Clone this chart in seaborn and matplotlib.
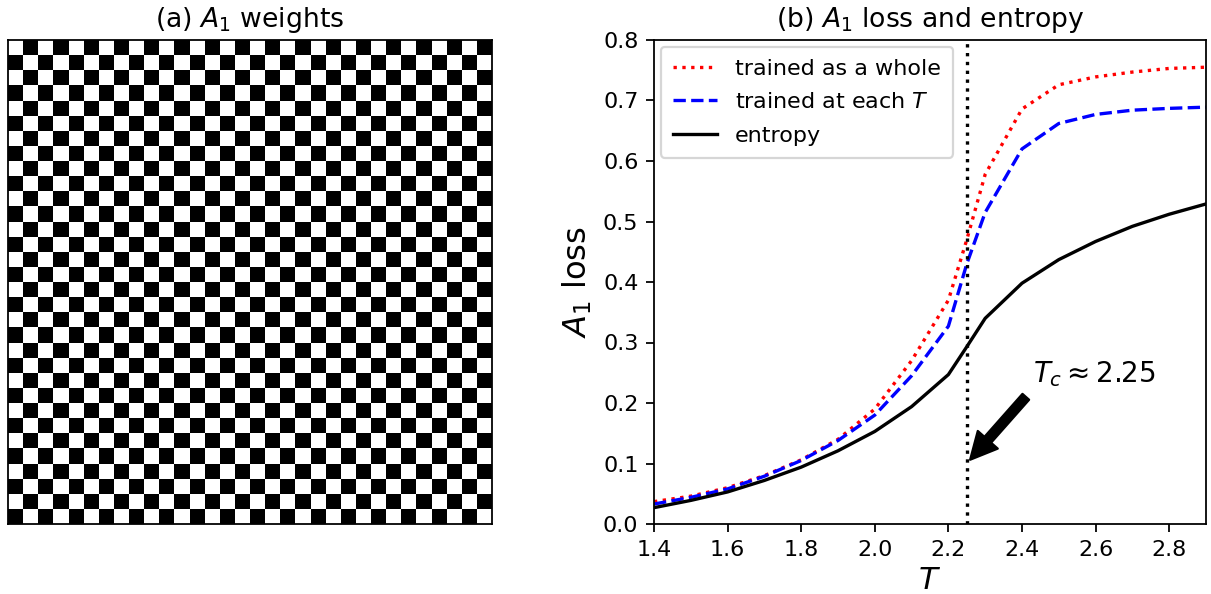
import numpy as np
import pandas as pd
import seaborn as sns
import matplotlib
matplotlib.use('Agg')
import matplotlib.pyplot as plt

# lattice size of the A1 weight map (checkerboard, white top-left)
lattice_size = 32

temperature = [1.4, 1.5, 1.6, 1.7, 1.8, 1.9, 2.0, 2.1, 2.2, 2.25, 2.3, 2.4, 2.5, 2.6, 2.7, 2.8, 2.9]
loss_whole = [0.037, 0.046, 0.060, 0.080, 0.106, 0.140, 0.190, 0.270, 0.370, 0.470, 0.578, 0.686, 0.726, 0.739, 0.747, 0.753, 0.755]
loss_each_T = [0.033, 0.044, 0.058, 0.079, 0.105, 0.138, 0.180, 0.245, 0.327, 0.430, 0.515, 0.620, 0.662, 0.677, 0.684, 0.687, 0.689]
entropy = [0.027, 0.039, 0.053, 0.072, 0.094, 0.121, 0.153, 0.194, 0.247, 0.293, 0.340, 0.398, 0.437, 0.467, 0.492, 0.512, 0.529]

T_c = 2.25

def weights():
	i, j = np.indices((lattice_size, lattice_size))
	return ((i + j + 1) % 2).astype(float)

def plot():
	W, H = 1211, 594
	fig = plt.figure(figsize=(W / 160, H / 160), dpi=160)

	# (a) weights
	ax1 = fig.add_axes([8 / W, 70 / H, 484 / W, 484 / H])
	sns.heatmap(weights(), cmap='gray', cbar=False, xticklabels=False,
				yticklabels=False, ax=ax1, vmin=0, vmax=1)
	for s in ax1.spines.values():
		s.set_visible(True)
		s.set_color('black')
	ax1.set_title(r'(a) $A_1$ weights')

	# (b) loss and entropy
	df = pd.DataFrame({'T': temperature, 'whole': loss_whole,
					   'each': loss_each_T, 'entropy': entropy})
	ax2 = fig.add_axes([654 / W, 70 / H, 552 / W, 484 / H])
	sns.lineplot(data=df, x='T', y='whole', color='red', linestyle=':', lw=1.5,
				 label='trained as a whole', ax=ax2)
	sns.lineplot(data=df, x='T', y='each', color='blue', linestyle='--', lw=1.5,
				 label=r'trained at each $T$', ax=ax2)
	sns.lineplot(data=df, x='T', y='entropy', color='black', linestyle='-', lw=1.5,
				 label='entropy', ax=ax2)
	ax2.axvline(T_c, color='black', linestyle=':', lw=1.5)
	ax2.annotate(r'$T_c \approx 2.25$', xy=(2.25, 0.1), xytext=(2.43, 0.235),
				 fontsize=12.5, arrowprops=dict(facecolor='black', shrink=0.05))
	ax2.set_xlim(1.4, 2.9)
	ax2.set_ylim(0.0, 0.8)
	ax2.set_xticks(np.arange(1.4, 2.81, 0.2))
	ax2.set_xticklabels(['%.1f' % t for t in np.arange(1.4, 2.81, 0.2)])
	ax2.set_xlabel(r'$T$', fontsize=14, labelpad=3)
	ax2.set_ylabel(r'$A_1$ loss', fontsize=14.5)
	ax2.set_title(r'(b) $A_1$ loss and entropy')
	ax2.legend(loc='upper left', borderaxespad=0.3, borderpad=0.55, labelspacing=0.6)

	fig.savefig('out.png', dpi=160)

def main():
	plot()

if __name__ == '__main__':
	main()
